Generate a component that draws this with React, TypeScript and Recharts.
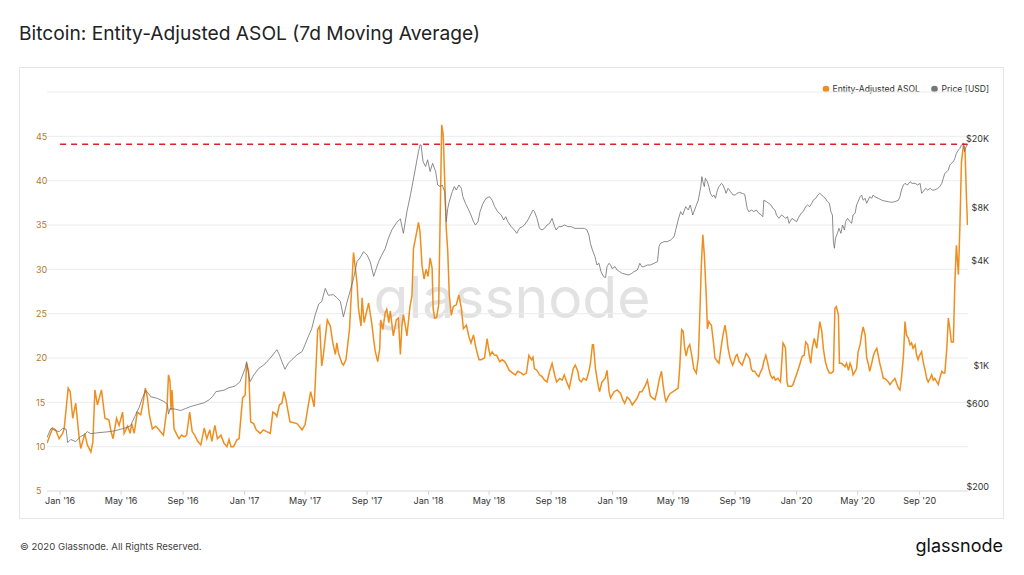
import React from 'react';
import { ComposedChart, Line, XAxis, YAxis, CartesianGrid, ReferenceLine } from 'recharts';

// x positions are days since 2016-01-01
const asolDays = [
  -26, -15, -9, -2, 5, 8, 16, 20, 25, 31, 38, 41, 44, 49, 54, 61, 65, 69, 74, 82, 89, 97, 101, 105, 112, 117, 124, 127, 134, 139, 142, 147, 153, 160, 165, 169, 173, 177, 183, 190, 196, 205, 212, 215, 218, 220, 222, 226, 232, 236, 241, 246, 251, 257, 262, 267, 273, 279, 286, 291, 297, 301, 307, 312, 319, 325, 331, 335, 339, 344, 351,
  355, 362, 367, 370, 374, 378, 384, 389, 397, 403, 410, 417, 422, 427, 430, 435, 440, 444, 448, 456, 470, 480, 486, 493, 497, 504, 511, 515, 519, 522, 530, 536, 541, 546, 549, 552, 559, 562, 567, 574, 582, 585, 589, 592, 597, 599, 603, 612, 618, 622, 625, 630, 634, 636, 640, 645, 648, 652, 655, 661, 667, 671, 675, 678, 681, 685, 688, 694, 698,
  701, 706, 711, 714, 718, 722, 726, 730, 734, 738, 740, 743, 747, 751, 757, 760, 763, 766, 769, 772, 776, 780, 786, 791, 796, 800, 806, 811, 815, 820, 825, 831, 835, 842, 847, 850, 853, 857, 862, 866, 872, 877, 882, 886, 891, 898, 903, 908, 915, 919, 925, 930, 935, 938, 941, 946, 951, 956, 961, 966, 971, 976, 981, 985, 991, 996,
  1000, 1005, 1010, 1014, 1018, 1022, 1027, 1030, 1034, 1038, 1044, 1049, 1052, 1056, 1058, 1062, 1067, 1070, 1075, 1081, 1085, 1089, 1092, 1099, 1105, 1112, 1116, 1120, 1125, 1130, 1135, 1140, 1145, 1150, 1154, 1158, 1161, 1165, 1168, 1171, 1175, 1180, 1184, 1189, 1193, 1196, 1200, 1202, 1205, 1210, 1216, 1221, 1226, 1229, 1233, 1236, 1239, 1242, 1245, 1249, 1253, 1257, 1262, 1266, 1269, 1272, 1275, 1278, 1282, 1284, 1287, 1289, 1292, 1296, 1299,
  1304, 1307, 1311, 1315, 1319, 1322, 1325, 1329, 1334, 1337, 1340, 1343, 1347, 1350, 1353, 1358, 1361, 1364, 1368, 1371, 1374, 1378, 1382, 1386, 1390, 1393, 1396, 1400, 1403, 1406, 1409, 1413, 1416, 1419, 1424, 1429, 1434, 1436, 1439, 1442, 1444, 1451, 1454, 1458, 1463, 1468, 1472, 1476, 1479, 1483, 1486, 1489, 1492, 1496,
  1501, 1504, 1507, 1511, 1514, 1518, 1522, 1526, 1530, 1534, 1537, 1540, 1544, 1546, 1550, 1554, 1557, 1560, 1564, 1567, 1570, 1573, 1577, 1580, 1583, 1587, 1590, 1593, 1597, 1600, 1603, 1606, 1610, 1613, 1616, 1620, 1623, 1626, 1630, 1633, 1636, 1640, 1643, 1646, 1649, 1653, 1656, 1659, 1663, 1666, 1669, 1673, 1676, 1679, 1683, 1686, 1689, 1692, 1696, 1699,
  1702, 1705, 1709, 1712, 1716, 1719, 1722, 1726, 1729, 1732, 1735, 1739, 1742, 1745, 1749, 1752, 1755, 1759, 1762, 1765, 1768, 1772, 1775, 1778, 1782, 1785, 1788, 1792, 1795, 1798, 1800,
];
const asolValues = [
  10.4, 12.1, 11.9, 10.9, 11.5, 12.0, 16.6, 16.2, 13.2, 14.9, 10.9, 9.8, 10.4, 11.5, 10.2, 9.4, 10.5, 16.4, 14.7, 16.4, 13.2, 13.0, 11.7, 10.9, 13.2, 12.4, 13.9, 11.5, 12.3, 11.5, 12.6, 11.5, 13.9, 13.6, 15.1, 16.6, 15.6, 13.6, 12.0, 12.3, 11.9, 11.3, 14.3, 18.1, 17.4, 14.1, 16.4, 12.0, 11.3, 10.9, 11.3, 11.1, 11.3, 13.9, 11.7, 11.3, 10.6, 10.2, 12.1, 10.9, 11.9, 10.6, 12.4, 10.9, 11.3, 10.4, 10.0, 10.8, 10.0, 10.0, 10.8,
  10.9, 15.5, 15.8, 19.4, 18.5, 12.8, 12.6, 11.9, 11.5, 11.9, 11.7, 11.5, 13.9, 13.7, 13.4, 14.7, 14.9, 16.2, 15.3, 12.8, 12.6, 11.9, 12.5, 14.9, 16.2, 14.5, 23.2, 23.6, 19.1, 20.2, 24.3, 23.6, 21.7, 20.4, 21.7, 20.6, 19.4, 19.2, 19.8, 23.2, 31.9, 30.4, 28.5, 25.5, 23.6, 26.8, 24.0, 26.2, 24.0, 22.1, 20.8, 19.6, 21.0, 24.3, 23.2, 25.1, 25.5, 24.0, 25.3, 22.5, 24.3, 24.5, 20.4, 23.6, 24.9, 23.6, 22.5, 25.8, 27.0,
  32.3, 33.8, 35.3, 34.2, 30.4, 28.9, 30.0, 29.2, 31.3, 30.1, 25.6, 24.5, 24.6, 26.0, 46.3, 45.2, 39.9, 34.6, 32.0, 27.1, 24.8, 25.8, 26.0, 27.1, 25.6, 23.3, 23.7, 22.4, 21.7, 22.6, 21.1, 19.8, 19.8, 20.0, 22.2, 21.1, 20.3, 20.7, 20.3, 20.3, 19.6, 19.8, 19.6, 19.2, 18.6, 18.3, 18.1, 18.5, 18.3, 18.1, 18.3, 20.3, 19.8, 20.1, 18.8, 18.6, 18.1, 17.9, 17.5, 17.3, 18.5, 19.4, 18.1, 17.3, 17.7, 17.5,
  18.1, 17.3, 16.6, 17.7, 18.8, 19.2, 18.5, 17.5, 17.3, 17.7, 17.5, 18.5, 19.4, 21.5, 21.5, 18.8, 17.0, 16.2, 17.3, 17.7, 18.6, 16.2, 15.5, 16.2, 16.4, 16.0, 15.3, 14.9, 15.6, 15.3, 14.7, 15.1, 15.5, 16.2, 16.2, 16.6, 16.9, 17.5, 16.6, 15.7, 15.5, 15.3, 16.2, 17.7, 18.5, 17.0, 15.5, 15.1, 15.5, 16.0, 16.2, 16.4, 16.6, 18.8, 23.2, 23.0, 21.1, 20.2, 21.1, 21.5, 20.3, 18.8, 18.3, 20.0, 24.8, 30.5, 33.9, 31.6, 26.7, 23.3, 24.1, 23.9, 23.7, 21.8, 20.0,
  19.6, 19.4, 21.1, 22.6, 23.7, 22.6, 21.1, 20.0, 19.2, 19.6, 20.2, 20.4, 19.6, 19.4, 19.2, 20.0, 20.5, 20.3, 19.9, 18.8, 18.5, 18.5, 18.1, 17.9, 18.5, 18.8, 19.6, 20.3, 19.6, 18.8, 18.1, 17.7, 17.9, 17.5, 17.7, 17.3, 21.7, 21.5, 21.1, 17.3, 16.8, 16.8, 17.0, 17.7, 18.5, 19.4, 20.2, 20.3, 21.8, 21.5, 20.3, 19.4, 21.1, 22.2,
  21.1, 22.6, 24.1, 23.0, 21.1, 19.6, 18.8, 18.3, 18.3, 18.5, 25.6, 25.8, 24.8, 19.4, 19.4, 19.2, 19.0, 19.4, 18.6, 19.4, 19.0, 18.1, 18.5, 18.8, 20.7, 21.5, 22.6, 23.5, 22.6, 20.0, 19.4, 18.5, 19.4, 20.2, 20.7, 21.1, 20.3, 19.4, 18.5, 17.7, 17.7, 17.5, 17.3, 17.0, 17.2, 17.5, 17.7, 17.2, 16.6, 16.4, 17.7, 20.3, 24.1, 22.6, 22.2, 21.5, 21.7, 21.1, 21.5, 20.3,
  19.8, 20.3, 20.7, 19.6, 18.6, 17.7, 17.3, 17.7, 18.1, 17.5, 17.7, 17.3, 17.0, 17.7, 18.5, 18.3, 18.3, 21.1, 24.5, 23.3, 21.8, 21.8, 28.6, 32.7, 29.4, 35.0, 42.1, 44.0, 43.6, 38.0, 35.0,
];

const priceDays = [
  -26, -18, -12, -2, 5, 12, 15, 21, 31, 41, 48, 54, 61, 74, 94, 107, 114, 127, 140, 148, 157, 163, 170, 180, 193, 206, 213, 215, 218, 229, 239, 249, 259, 272, 286, 296, 302, 309, 325, 335, 347, 357, 362, 367, 370, 374, 377, 384, 394,
  404, 410, 417, 427, 430, 435, 440, 446, 453, 460, 470, 480, 486, 493, 499, 506, 513, 519, 526, 532, 542, 549, 556, 562, 569, 575, 582, 589, 595, 602, 609, 615, 622, 625, 632, 638, 645, 651, 658, 668, 675, 681, 688, 695, 700, 706, 711, 714, 716, 720, 725, 729, 734, 739, 745, 749, 754, 758, 763, 766, 769, 772, 778, 782, 786, 791, 796, 799,
  804, 809, 815, 820, 824, 829, 833, 839, 845, 852, 857, 862, 868, 875, 880, 884, 888, 895, 901, 906, 911, 917, 921, 928, 933, 938, 941, 946, 951, 956, 961, 966, 971, 976, 981, 984, 989, 994,
  1001, 1007, 1014, 1021, 1027, 1034, 1040, 1045, 1049, 1052, 1056, 1061, 1065, 1069, 1073, 1078, 1082, 1085, 1089, 1092, 1095, 1101, 1105, 1110, 1115, 1122, 1128, 1134, 1138, 1145, 1150, 1154, 1158, 1165, 1171, 1178, 1185, 1188, 1191, 1198, 1204, 1211, 1218, 1222, 1226, 1231, 1235, 1241, 1246, 1250, 1255, 1261, 1266, 1271, 1273, 1275, 1278, 1280, 1284, 1287, 1290, 1294, 1297, 1300,
  1304, 1307, 1312, 1315, 1319, 1321, 1325, 1330, 1335, 1339, 1343, 1348, 1353, 1358, 1363, 1366, 1372, 1376, 1381, 1386, 1391, 1394, 1396, 1401, 1406, 1410, 1414, 1418, 1421, 1426, 1431, 1436, 1439, 1443, 1446, 1452, 1456, 1461, 1464, 1470, 1474, 1479, 1483, 1487, 1491, 1494, 1499,
  1503, 1507, 1511, 1514, 1518, 1522, 1526, 1529, 1532, 1534, 1536, 1538, 1542, 1545, 1549, 1552, 1556, 1558, 1562, 1567, 1570, 1573, 1577, 1580, 1583, 1587, 1590, 1593, 1597, 1600, 1603, 1606, 1610, 1613, 1616, 1623, 1630, 1636, 1643, 1649, 1656, 1663, 1666, 1669, 1673, 1676, 1681, 1686, 1690, 1696,
  1701, 1706, 1709, 1712, 1717, 1721, 1726, 1730, 1735, 1741, 1745, 1749, 1752, 1755, 1759, 1762, 1765, 1768, 1772, 1775, 1778, 1782, 1785, 1788, 1792, 1794, 1796, 1799, 1801,
];
const priceValues = [
  385, 435, 425, 416, 435, 430, 360, 375, 365, 390, 400, 416, 405, 410, 415, 420, 425, 435, 450, 508, 575, 646, 720, 660, 646, 620, 595, 525, 565, 560, 550, 565, 580, 595, 610, 635, 660, 706, 720, 745, 760, 806, 880, 960, 1050, 880, 806, 880, 960,
  1005, 1050, 1100, 1200, 1230, 1150, 1050, 950, 1030, 1080, 1150, 1200, 1320, 1480, 1620, 1950, 2250, 2330, 2770, 2530, 2550, 2450, 2330, 1900, 2300, 2650, 3150, 3950, 4150, 4500, 4300, 3950, 3250, 3450, 3950, 4300, 4700, 5350, 6000, 6650, 6950, 5740, 7650, 9550, 11370, 14180, 17000, 18470, 18500, 14820, 13900, 15200, 13000, 14500, 12980, 10880, 10650, 10880, 9960, 6700, 7990, 8727, 9960, 10650, 10180, 10880, 10410, 9320,
  8540, 7990, 7315, 6700, 6408, 6700, 7646, 8540, 9120, 9320, 8900, 8170, 7646, 7315, 6850, 7150, 6697, 6270, 6000, 5740, 6132, 6270, 6408, 6850, 7315, 7815, 7646, 6998, 6132, 6000, 6132, 6408, 6550, 6998, 6270, 6000, 6270, 6270,
  6408, 6270, 6270, 6132, 6132, 6132, 6132, 6000, 5614, 5020, 4600, 4215, 3775, 3860, 3456, 3232, 3200, 3700, 3860, 3775, 3600, 3690, 3530, 3456, 3380, 3340, 3307, 3380, 3456, 3530, 3860, 3690, 3690, 3775, 3775, 3860, 3945, 4810, 5030, 5140, 5140, 5250, 5490, 6132, 6850, 7646, 7315, 8170, 7815, 8350, 7315, 8170, 8900, 10650, 12150, 11370, 10650, 11890, 11370, 10650, 9745, 9320, 9530, 9120,
  10180, 10650, 11120, 10880, 10180, 9745, 10410, 9960, 9530, 9530, 9745, 9880, 9745, 9620, 7990, 7646, 7815, 7646, 7815, 7480, 7315, 7150, 8900, 8727, 8540, 8350, 7990, 7815, 7315, 6998, 7315, 7150, 6998, 7150, 6550, 6998, 6850, 6697, 6998, 7480, 7646, 8170, 8350, 8170, 8540, 8900, 9120,
  9530, 9745, 9530, 9320, 9120, 8727, 8540, 7646, 7315, 5140, 4706, 5372, 5740, 6132, 5740, 6408, 6000, 6697, 6998, 6697, 6550, 7315, 7480, 8350, 8727, 9320, 9530, 8900, 9120, 8540, 8900, 9320, 9120, 9530, 9320, 9120, 8900, 8800, 8727, 8650, 8727, 8900, 9320, 10180, 10880, 11120, 10880, 11370, 11120, 11120,
  10880, 11120, 9745, 9960, 10410, 10180, 10410, 10180, 10180, 10410, 10650, 11120, 11890, 12700, 12980, 13270, 14180, 14500, 14820, 15480, 16550, 17300, 17680, 18475, 18900, 16920, 17680, 18475, 18650,
];

const xTickDays = [0, 121, 244, 366, 486, 609, 731, 851, 974, 1096, 1216, 1339, 1461, 1582, 1705];
const xTickLabels = ["Jan '16", "May '16", "Sep '16", "Jan '17", "May '17", "Sep '17", "Jan '18", "May '18", "Sep '18", "Jan '19", "May '19", "Sep '19", "Jan '20", "May '20", "Sep '20"];
const asolTicks = [5, 10, 15, 20, 25, 30, 35, 40, 45, 50];
const priceTicks = [200, 600, 1000, 4000, 8000, 20000];
const priceTickLabels = ['$200', '$600', '$1K', '$4K', '$8K', '$20K'];
const athLevel = 44.1;
const athFromDay = 0;
const athToDay = 1800;

const ORANGE = '#ee8e1f';
const GREY = '#6e6e6e';
const FONT = 'Inter, "Noto Sans", sans-serif';

const rowMap = new Map<number, any>();
asolDays.forEach((d, i) => {
  const r = rowMap.get(d) || { t: d };
  r.asol = asolValues[i];
  rowMap.set(d, r);
});
priceDays.forEach((d, i) => {
  const r = rowMap.get(d) || { t: d };
  r.price = priceValues[i];
  rowMap.set(d, r);
});
const rows = Array.from(rowMap.values()).sort((a, b) => a.t - b.t);

const LeftTick = (props: any) => {
  const { y, payload } = props;
  if (payload.value === 50) return <g />;
  return (
    <text x={36} y={y} dy={3.2} fontSize={9} fill="#b47a2e" fontFamily={FONT} textAnchor="start">
      {payload.value}
    </text>
  );
};

const RightTick = (props: any) => {
  const { y, payload } = props;
  const i = priceTicks.indexOf(payload.value);
  return (
    <text x={989} y={y} dy={3.2} fontSize={9} fill="#333" fontFamily={FONT} textAnchor="end">
      {i >= 0 ? priceTickLabels[i] : ''}
    </text>
  );
};

const BottomTick = (props: any) => {
  const { x, payload } = props;
  const i = xTickDays.indexOf(payload.value);
  return (
    <text x={x} y={504} fontSize={9} fill="#333" fontFamily={FONT} textAnchor="middle">
      {i >= 0 ? xTickLabels[i] : ''}
    </text>
  );
};

export default function App() {
  const W = 1024;
  const H = 575;
  return (
    <div style={{ position: 'absolute', left: 0, top: 0, width: W, height: H, background: '#fff', fontFamily: FONT }}>
      <svg style={{ position: 'absolute', left: 0, top: 0 }} width={W} height={H}>
        <text x={19} y={39.5} fontSize={19.2} fill="#222" fontFamily={FONT}>
          Bitcoin: Entity-Adjusted ASOL (7d Moving Average)
        </text>
        <rect x={19.5} y={67.5} width={984} height={451} fill="#fff" stroke="#e6e6e6" strokeWidth={1} />
        <text x={512} y={318} fontSize={57} fill="#e2e2e2" fontFamily={FONT} textAnchor="middle">
          glassnode
        </text>
        <circle cx={826} cy={89} r={3.3} fill={ORANGE} />
        <text x={832.5} y={92.2} fontSize={8.6} fill="#333" fontFamily={FONT}>Entity-Adjusted ASOL</text>
        <circle cx={934.5} cy={89} r={3.3} fill="#777" />
        <text x={941.5} y={92.2} fontSize={8.6} fill="#333" fontFamily={FONT}>Price [USD]</text>
        <text x={20} y={549.5} fontSize={9.6} fill="#444" fontFamily={FONT}>© 2020 Glassnode. All Rights Reserved.</text>
        <text x={1003} y={552} fontSize={18} fill="#111" fontFamily={FONT} fontWeight={400} textAnchor="end">glassnode</text>
      </svg>
      <div style={{ position: 'absolute', left: 0, top: 0 }}>
        <ComposedChart width={W} height={H} data={rows} margin={{ top: 92, right: 0, bottom: 54, left: 17 }}>
          <CartesianGrid yAxisId="left" vertical={false} stroke="#ececec" strokeWidth={1} />
          <XAxis
            dataKey="t"
            type="number"
            domain={[-26, 1801]}
            ticks={xTickDays}
            allowDataOverflow
            height={30}
            axisLine={{ stroke: '#e3e3e3' }}
            tickLine={{ stroke: '#d6d6d6' }}
            tickSize={4}
            tick={<BottomTick />}
            interval={0}
          />
          <YAxis
            yAxisId="left"
            type="number"
            domain={[5, 50]}
            ticks={asolTicks}
            allowDataOverflow
            width={30}
            axisLine={false}
            tickLine={false}
            tick={<LeftTick />}
            interval={0}
          />
          <YAxis
            yAxisId="right"
            orientation="right"
            type="number"
            scale="log"
            domain={[189.7, 37250]}
            ticks={priceTicks}
            allowDataOverflow
            width={56}
            axisLine={false}
            tickLine={false}
            tick={<RightTick />}
            interval={0}
          />
          <Line
            yAxisId="left"
            dataKey="asol"
            type="linear"
            stroke={ORANGE}
            strokeWidth={1.5}
            dot={false}
            activeDot={false}
            connectNulls
            isAnimationActive={false}
          />
          <Line
            yAxisId="right"
            dataKey="price"
            type="linear"
            stroke={GREY}
            strokeWidth={0.8}
            dot={false}
            activeDot={false}
            connectNulls
            isAnimationActive={false}
          />
          <ReferenceLine
            yAxisId="left"
            segment={[{ x: athFromDay, y: athLevel }, { x: athToDay, y: athLevel }]}
            stroke="#dd1f26"
            strokeWidth={1.5}
            strokeDasharray="6 5"
          />
        </ComposedChart>
      </div>
    </div>
  );
}
